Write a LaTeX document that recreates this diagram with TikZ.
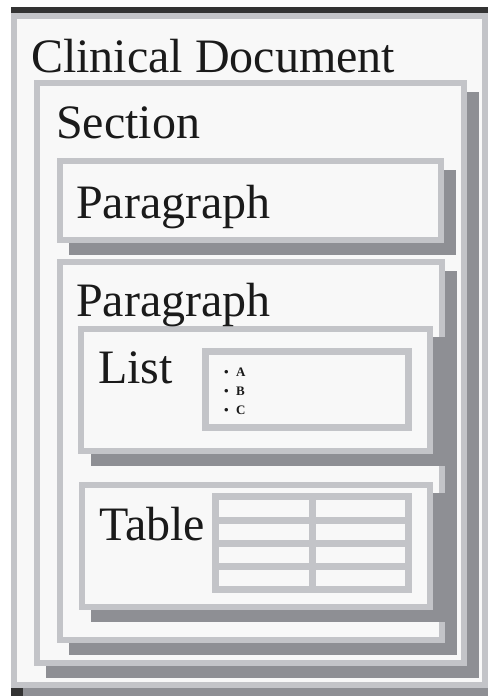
\documentclass[tikz,border=0pt]{standalone}
\usepackage{fontspec}
\setmainfont{Liberation Serif}
\usepackage{tikz}
\usetikzlibrary{calc}

\definecolor{rimgray}{HTML}{C3C4C8}
\definecolor{papergray}{HTML}{F8F8F8}
\definecolor{dropgray}{HTML}{8E8F94}
\definecolor{edgegray}{HTML}{333333}
\definecolor{inkgray}{HTML}{1A1A1A}

\tikzset{
  rim/.style={fill=rimgray},
  sheet/.style={fill=papergray},
  drop/.style={fill=dropgray},
  gridline/.style={draw=rimgray, line width=7pt},
  title/.style={anchor=base west, inner sep=0pt, text=inkgray,
                font=\fontsize{48}{50}\selectfont},
  item/.style={anchor=base west, inner sep=0pt, text=inkgray,
               font=\fontsize{13}{15}\selectfont\bfseries},
}

\begin{document}
\begin{tikzpicture}[x=1pt, y=-1pt]
\fill[white] (0,0) rectangle (488,696);
\useasboundingbox (0,0) rectangle (488,696);

\path
 (11,13)   coordinate (D1)
 (488,688) coordinate (D2)
 (34,80)   coordinate (S1)
 (467,666) coordinate (S2)
 (57,158)  coordinate (P1)
 (444,243) coordinate (P2)
 (57,259)  coordinate (Q1)
 (445,643) coordinate (Q2)
 (78,326)  coordinate (L1)
 (433,454) coordinate (L2)
 (202,348) coordinate (M1)
 (412,431) coordinate (M2)
 (79,482)  coordinate (T1)
 (433,610) coordinate (T2)
 (212,493) coordinate (G1)
 (412,593) coordinate (G2)
;

% clinical document
\fill[fill=edgegray] (11,7) rectangle (488,696);
\fill[drop] ($(D1)+(12,12)$) rectangle (D2 |- 0,696);
\fill[rim]   (D1) rectangle (D2);
\fill[sheet] ($(D1)+(6,6)$) rectangle ($(D2)-(6,6)$);

% section
\fill[drop]  ($(S1)+(12,12)$) rectangle ($(S2)+(12,12)$);
\fill[rim]   (S1) rectangle (S2);
\fill[sheet] ($(S1)+(6,6)$) rectangle ($(S2)-(6,6)$);

% paragraphs
\fill[drop]  ($(P1)+(12,12)$) rectangle ($(P2)+(12,12)$);
\fill[rim]   (P1) rectangle (P2);
\fill[sheet] ($(P1)+(6,6)$) rectangle ($(P2)-(6,6)$);
\fill[drop]  ($(Q1)+(12,12)$) rectangle ($(Q2)+(12,12)$);
\fill[rim]   (Q1) rectangle (Q2);
\fill[sheet] ($(Q1)+(6,6)$) rectangle ($(Q2)-(6,6)$);

% list
\fill[drop]  ($(L1)+(13,11)$) rectangle ($(L2)+(14,12)$);
\fill[rim]   (L1) rectangle (L2);
\fill[sheet] ($(L1)+(6,6)$) rectangle ($(L2)-(6,6)$);
\fill[rim]   (M1) rectangle (M2);
\fill[sheet] ($(M1)+(7,7)$) rectangle ($(M2)-(7,7)$);

% table
\fill[drop]  ($(T1)+(12,11)$) rectangle ($(T2)+(14,12)$);
\fill[rim]   (T1) rectangle (T2);
\fill[sheet] ($(T1)+(6,6)$) rectangle ($(T2)-(6,6)$);
\draw[gridline]
   ($(G1)+(3.5,3.5)$) rectangle ($(G2)-(3.5,3.5)$)
   (312,496.5) -- (312,589.5)
   (215.5,520) -- (408.5,520)
   (215.5,543) -- (408.5,543)
   (215.5,566) -- (408.5,566)
;

\node[title] (doc)  at (31,72)  {Clinical Document};
\node[title] (sec)  at (56,138) {Section};
\node[title] (par1) at (76,218) {Paragraph};
\node[title] (par2) at (76,316) {Paragraph};
\node[title] (lst)  at (98,383) {List};
\node[title] (tbl)  at (99,540) {Table};

\node[item] (ia) at (224,376) {\textbullet\hspace{7.5pt}A};
\node[item] (ib) at (224,395) {\textbullet\hspace{7.5pt}B};
\node[item] (ic) at (224,414) {\textbullet\hspace{7.5pt}C};
\end{tikzpicture}
\end{document}
